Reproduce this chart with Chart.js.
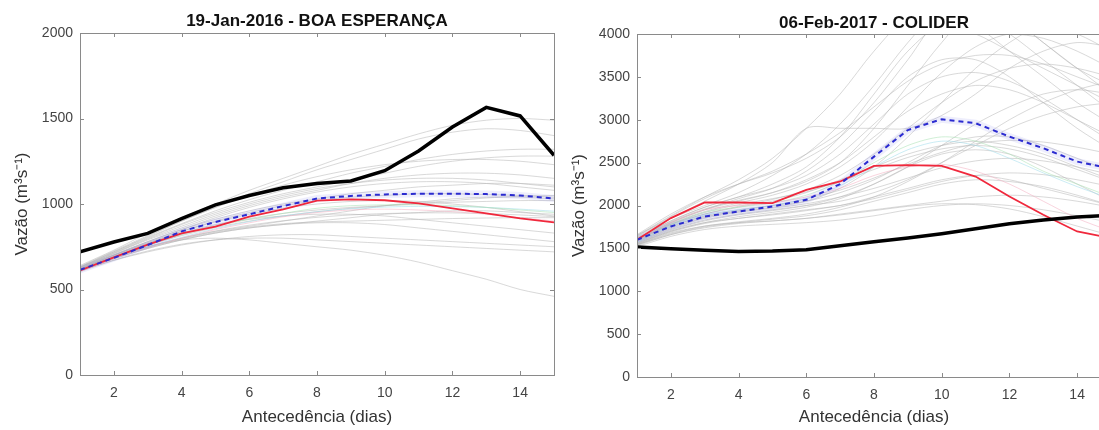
<!DOCTYPE html>
<html>
<head>
<meta charset="utf-8">
<script src="https://cdn.jsdelivr.net/npm/chart.js@4.4.1/dist/chart.umd.min.js"></script>
<style>
  html, body { margin: 0; padding: 0; background: #fff; }
  #wrap { position: relative; width: 1099px; height: 430px; overflow: hidden; }
  .panel { position: absolute; top: 0; }
  #left { left: 0; }
  #right { left: 557px; }
</style>
</head>
<body>
<div id="wrap">
  <canvas id="left" class="panel" width="557" height="430"></canvas>
  <canvas id="right" class="panel" width="557" height="430"></canvas>
</div>
<script>
// lead time (days)
const days = [1, 2, 3, 4, 5, 6, 7, 8, 9, 10, 11, 12, 13, 14, 15];
const xTicks = [2, 4, 6, 8, 10, 12, 14];

// ---- 19-Jan-2016 - BOA ESPERANÇA ----
const boaTicks = [0, 500, 1000, 1500, 2000];
const boaObs = [720, 778, 828, 915, 995, 1050, 1095, 1120, 1135, 1195, 1310, 1450, 1565, 1515, 1285];
const boaMean = [615, 685, 760, 840, 895, 940, 988, 1032, 1047, 1056, 1060, 1060, 1058, 1050, 1032];
const boaDet = [612, 688, 762, 828, 868, 926, 968, 1020, 1027, 1022, 1004, 975, 945, 916, 893];
const boaMembers = [
  [620, 700, 770, 840, 900, 950, 990, 1020, 1040, 1050, 1060, 1060, 1055, 1050, 1040],
  [630, 720, 810, 900, 980, 1060, 1130, 1200, 1260, 1320, 1380, 1420, 1440, 1430, 1400],
  [640, 730, 830, 920, 1000, 1080, 1150, 1220, 1290, 1350, 1410, 1460, 1490, 1500, 1490],
  [610, 680, 740, 790, 830, 860, 880, 890, 890, 880, 860, 840, 820, 800, 780],
  [615, 690, 750, 790, 800, 790, 770, 750, 730, 700, 660, 610, 560, 500, 460],
  [625, 710, 790, 860, 930, 990, 1040, 1080, 1120, 1150, 1170, 1180, 1180, 1170, 1150],
  [620, 700, 780, 850, 920, 980, 1030, 1070, 1100, 1120, 1130, 1130, 1120, 1100, 1080],
  [610, 680, 740, 790, 830, 860, 880, 900, 920, 940, 950, 960, 960, 950, 940],
  [630, 715, 800, 880, 950, 1010, 1060, 1100, 1140, 1180, 1220, 1250, 1270, 1280, 1280],
  [615, 690, 750, 800, 840, 870, 900, 930, 960, 990, 1010, 1030, 1040, 1040, 1030],
  [620, 700, 770, 830, 880, 910, 930, 940, 940, 930, 910, 890, 870, 850, 830],
  [605, 670, 720, 760, 790, 810, 820, 820, 810, 800, 790, 780, 770, 760, 750],
  [625, 705, 780, 850, 910, 960, 1000, 1030, 1060, 1080, 1100, 1110, 1120, 1120, 1110],
  [635, 725, 815, 900, 980, 1050, 1110, 1160, 1200, 1230, 1250, 1260, 1260, 1250, 1230],
  [612, 685, 745, 795, 835, 865, 885, 895, 900, 905, 910, 915, 918, 920, 920],
  [618, 695, 765, 825, 875, 915, 945, 965, 980, 990, 1000, 1010, 1015, 1020, 1020],
  [622, 702, 775, 840, 895, 940, 975, 1000, 1015, 1020, 1015, 1000, 980, 955, 930],
  [608, 672, 725, 765, 790, 800, 800, 790, 780, 770, 760, 750, 740, 730, 720],
  [628, 712, 795, 870, 940, 1000, 1050, 1090, 1120, 1140, 1150, 1150, 1140, 1120, 1100],
  [632, 720, 805, 885, 960, 1025, 1080, 1130, 1180, 1220, 1260, 1290, 1310, 1320, 1320],
  [616, 692, 758, 815, 862, 900, 930, 955, 975, 990, 1005, 1020, 1035, 1045, 1050],
  [612, 686, 748, 800, 842, 876, 902, 922, 936, 944, 948, 948, 944, 936, 926]
];
const boaPink = [605, 680, 745, 800, 850, 890, 925, 950, 965, 970, 965, 955, 940, 920, 900];
const boaGreen = [615, 690, 760, 820, 870, 910, 945, 975, 990, 995, 995, 990, 980, 965, 950];
const boaCyan = [610, 683, 748, 805, 855, 897, 930, 955, 972, 982, 986, 985, 980, 970, 958];

// ---- 06-Feb-2017 - COLIDER ----
const colTicks = [0, 500, 1000, 1500, 2000, 2500, 3000, 3500, 4000];
const colObs = [1516, 1495, 1478, 1465, 1468, 1484, 1530, 1578, 1620, 1670, 1728, 1788, 1830, 1865, 1885];
const colMean = [1600, 1756, 1872, 1930, 1988, 2066, 2250, 2570, 2880, 3006, 2960, 2803, 2668, 2512, 2430];
const colDet = [1600, 1853, 2035, 2035, 2028, 2183, 2280, 2462, 2470, 2462, 2338, 2105, 1892, 1697, 1620];
const colMembers = [
  [1600, 1800, 1950, 2050, 2150, 2300, 2500, 2800, 3100, 3300, 3400, 3350, 3200, 3000, 2800],
  [1650, 1850, 2000, 2150, 2350, 2600, 2950, 3400, 3900, 4300, 4400, 4200, 3900, 3600, 3300],
  [1550, 1700, 1800, 1850, 1900, 1950, 2000, 2100, 2200, 2300, 2350, 2300, 2200, 2100, 2000],
  [1580, 1750, 1880, 1950, 2000, 2050, 2150, 2300, 2500, 2700, 2800, 2800, 2700, 2550, 2400],
  [1620, 1820, 1980, 2100, 2250, 2450, 2800, 3300, 3800, 4100, 4000, 3800, 3600, 3400, 3200],
  [1570, 1720, 1830, 1900, 1950, 2000, 2050, 2150, 2300, 2500, 2700, 2900, 3050, 3150, 3200],
  [1600, 1780, 1900, 1980, 2050, 2150, 2300, 2450, 2600, 2700, 2750, 2700, 2600, 2450, 2300],
  [1540, 1680, 1760, 1800, 1820, 1850, 1900, 1950, 2000, 2050, 2100, 2120, 2100, 2050, 1980],
  [1630, 1850, 2050, 2250, 2500, 2900, 2900, 2900, 2900, 3050, 3300, 3600, 3800, 3900, 3850],
  [1590, 1760, 1870, 1930, 1980, 2050, 2200, 2450, 2800, 3200, 3600, 3900, 4100, 4000, 3800],
  [1560, 1700, 1800, 1870, 1920, 1980, 2080, 2250, 2450, 2600, 2650, 2600, 2450, 2250, 2050],
  [1610, 1800, 1950, 2080, 2200, 2400, 2700, 3100, 3500, 3700, 3700, 3500, 3200, 2900, 2650],
  [1520, 1640, 1720, 1760, 1780, 1800, 1830, 1880, 1950, 2000, 2020, 2000, 1950, 1880, 1800],
  [1640, 1870, 2080, 2250, 2400, 2600, 2850, 3150, 3450, 3650, 3750, 3750, 3650, 3500, 3350],
  [1580, 1740, 1860, 1940, 2000, 2080, 2180, 2320, 2480, 2620, 2720, 2760, 2740, 2680, 2600],
  [1600, 1790, 1930, 2030, 2120, 2250, 2450, 2750, 3150, 3550, 3850, 4000, 3950, 3800, 3600],
  [1550, 1690, 1790, 1850, 1890, 1940, 2000, 2080, 2180, 2280, 2350, 2380, 2360, 2300, 2220],
  [1620, 1810, 1960, 2060, 2150, 2280, 2500, 2900, 3400, 3900, 4300, 4200, 3900, 3600, 3400],
  [1570, 1730, 1850, 1920, 1970, 2020, 2100, 2200, 2320, 2440, 2520, 2550, 2520, 2450, 2360],
  [1660, 1900, 2100, 2250, 2380, 2550, 2800, 3200, 3700, 4200, 4200, 4000, 3700, 3400, 3100],
  [1530, 1660, 1750, 1800, 1840, 1880, 1950, 2050, 2150, 2250, 2300, 2280, 2220, 2120, 2000],
  [1590, 1770, 1900, 1990, 2070, 2180, 2350, 2600, 2900, 3200, 3450, 3600, 3650, 3600, 3500],
  [1610, 1820, 1980, 2100, 2200, 2350, 2600, 2950, 3300, 3500, 3550, 3450, 3250, 3000, 2750],
  [1545, 1670, 1760, 1810, 1850, 1900, 1980, 2100, 2280, 2500, 2750, 3000, 3200, 3350, 3450],
  [1600, 1780, 1920, 2010, 2080, 2160, 2280, 2420, 2560, 2660, 2700, 2660, 2560, 2420, 2280],
  [1650, 1880, 2100, 2300, 2550, 2900, 3300, 3800, 4200, 4300, 4100, 3800, 3500, 3200, 2950],
  [1560, 1710, 1820, 1890, 1940, 2000, 2100, 2250, 2450, 2700, 2950, 3150, 3300, 3350, 3300],
  [1540, 1660, 1740, 1790, 1820, 1850, 1890, 1940, 1990, 2020, 2010, 1960, 1870, 1760, 1650]
];
const colPink = [1580, 1800, 1950, 2000, 2030, 2100, 2200, 2350, 2450, 2480, 2400, 2250, 2050, 1850, 1700];
const colGreen = [1590, 1780, 1920, 1980, 2030, 2120, 2280, 2500, 2700, 2800, 2750, 2600, 2400, 2250, 2100];
const colCyan = [1570, 1760, 1890, 1950, 2000, 2080, 2230, 2450, 2650, 2750, 2700, 2550, 2380, 2220, 2080];

const FONT = '"Liberation Sans", Arial, Helvetica, sans-serif';

function series(vals) {
  return days.map((d, i) => ({ x: d, y: vals[i] }));
}

function line(vals, color, width, dash, tension) {
  return {
    data: series(vals),
    borderColor: color,
    borderWidth: width,
    borderDash: dash || [],
    pointRadius: 0,
    tension: tension || 0,
    fill: false
  };
}

// box round the plot, inward tick marks and the title
const framePlugin = {
  id: 'frame',
  afterDraw(chart, args, opts) {
    const { ctx, chartArea: a, scales: { x, y } } = chart;
    ctx.save();
    ctx.strokeStyle = '#8a8a8a';
    ctx.lineWidth = 1;
    ctx.strokeRect(Math.round(a.left) + 0.5, Math.round(a.top) + 0.5,
      Math.round(a.right - a.left), Math.round(a.bottom - a.top));
    ctx.beginPath();
    x.ticks.forEach(t => {
      const px = Math.round(x.getPixelForValue(t.value)) + 0.5;
      ctx.moveTo(px, a.bottom); ctx.lineTo(px, a.bottom - 4);
      ctx.moveTo(px, a.top); ctx.lineTo(px, a.top + 4);
    });
    y.ticks.forEach(t => {
      const py = Math.round(y.getPixelForValue(t.value)) + 0.5;
      ctx.moveTo(a.left, py); ctx.lineTo(a.left + 4, py);
      ctx.moveTo(a.right, py); ctx.lineTo(a.right - 4, py);
    });
    ctx.stroke();
    ctx.fillStyle = '#111';
    ctx.font = 'bold 17px ' + FONT;
    ctx.textAlign = 'center';
    ctx.textBaseline = 'middle';
    ctx.fillText(opts.text, (a.left + a.right) / 2, opts.y);
    ctx.restore();
  }
};

function makeChart(id, opts) {
  const datasets = [
    line(opts.obs, '#000000', 3.5),
    line(opts.mean, '#2b2bd0', 2, [5, 4]),
    line(opts.det, '#f0283c', 1.8),
    line(opts.mean, 'rgba(120,120,230,0.13)', 7),
    line(opts.pink, 'rgba(244,170,190,0.5)', 1, null, 0.3),
    line(opts.green, 'rgba(170,225,180,0.55)', 1, null, 0.3),
    line(opts.cyan, 'rgba(160,220,235,0.55)', 1, null, 0.3)
  ];
  opts.members.forEach(m => datasets.push(line(m, 'rgba(180,180,180,0.5)', 1, null, 0.3)));

  return new Chart(document.getElementById(id), {
    type: 'line',
    data: { datasets: datasets },
    plugins: [framePlugin],
    options: {
      responsive: false,
      animation: false,
      layout: { padding: { top: opts.top, right: 3, left: 0, bottom: 0 } },
      plugins: {
        legend: { display: false },
        tooltip: { enabled: false },
        frame: { text: opts.title, y: opts.titleY }
      },
      scales: {
        x: {
          type: 'linear',
          min: 1,
          max: 15,
          afterBuildTicks: s => { s.ticks = xTicks.map(v => ({ value: v })); },
          afterFit: s => { s.height = 430 - opts.bottom; },
          grid: { display: false, drawTicks: false },
          border: { display: false },
          ticks: {
            padding: 10, color: '#444', font: { size: 14, family: FONT },
            callback: v => String(v)
          },
          title: {
            display: true,
            text: 'Antecedência (dias)',
            color: '#333',
            font: { size: 17, family: FONT },
            padding: { top: 0, bottom: 2 }
          }
        },
        y: {
          min: 0,
          max: opts.yTicks[opts.yTicks.length - 1],
          afterBuildTicks: s => { s.ticks = opts.yTicks.map(v => ({ value: v })); },
          afterFit: s => { s.width = 80; },
          grid: { display: false, drawTicks: false },
          border: { display: false },
          ticks: {
            padding: 7, color: '#444', font: { size: 14, family: FONT },
            callback: v => String(v)
          },
          title: {
            display: true,
            text: 'Vazão (m³s⁻¹)',
            color: '#333',
            font: { size: 17, family: FONT },
            padding: { top: 12, bottom: 0 }
          }
        }
      }
    }
  });
}

makeChart('left', {
  title: '19-Jan-2016 - BOA ESPERANÇA', titleY: 21, top: 33, bottom: 375,
  yTicks: boaTicks, obs: boaObs, mean: boaMean, det: boaDet,
  members: boaMembers, pink: boaPink, green: boaGreen, cyan: boaCyan
});

makeChart('right', {
  title: '06-Feb-2017 - COLIDER', titleY: 23, top: 34, bottom: 377,
  yTicks: colTicks, obs: colObs, mean: colMean, det: colDet,
  members: colMembers, pink: colPink, green: colGreen, cyan: colCyan
});
</script>
</body>
</html>
